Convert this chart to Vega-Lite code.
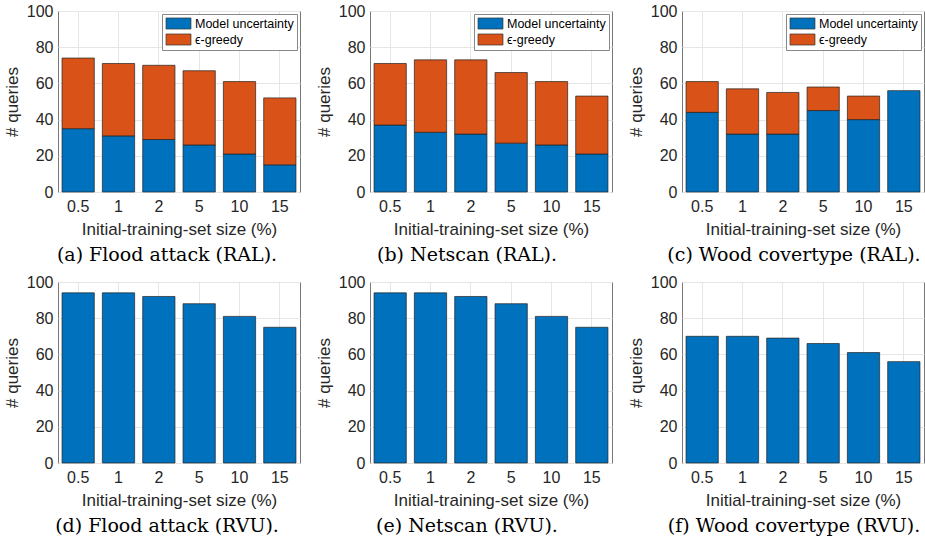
{
  "$schema": "https://vega.github.io/schema/vega-lite/v6.json",
  "padding": {"left": 2, "top": 2, "right": 0, "bottom": 5},
  "background": "white",
  "datasets": {
    "ral": [
      {"dataset": "Flood attack", "size": "0.5", "method": "Model uncertainty", "queries": 35},
      {"dataset": "Flood attack", "size": "1", "method": "Model uncertainty", "queries": 31},
      {"dataset": "Flood attack", "size": "2", "method": "Model uncertainty", "queries": 29},
      {"dataset": "Flood attack", "size": "5", "method": "Model uncertainty", "queries": 26},
      {"dataset": "Flood attack", "size": "10", "method": "Model uncertainty", "queries": 21},
      {"dataset": "Flood attack", "size": "15", "method": "Model uncertainty", "queries": 15},
      {"dataset": "Flood attack", "size": "0.5", "method": "ϵ-greedy", "queries": 39},
      {"dataset": "Flood attack", "size": "1", "method": "ϵ-greedy", "queries": 40},
      {"dataset": "Flood attack", "size": "2", "method": "ϵ-greedy", "queries": 41},
      {"dataset": "Flood attack", "size": "5", "method": "ϵ-greedy", "queries": 41},
      {"dataset": "Flood attack", "size": "10", "method": "ϵ-greedy", "queries": 40},
      {"dataset": "Flood attack", "size": "15", "method": "ϵ-greedy", "queries": 37},
      {"dataset": "Netscan", "size": "0.5", "method": "Model uncertainty", "queries": 37},
      {"dataset": "Netscan", "size": "1", "method": "Model uncertainty", "queries": 33},
      {"dataset": "Netscan", "size": "2", "method": "Model uncertainty", "queries": 32},
      {"dataset": "Netscan", "size": "5", "method": "Model uncertainty", "queries": 27},
      {"dataset": "Netscan", "size": "10", "method": "Model uncertainty", "queries": 26},
      {"dataset": "Netscan", "size": "15", "method": "Model uncertainty", "queries": 21},
      {"dataset": "Netscan", "size": "0.5", "method": "ϵ-greedy", "queries": 34},
      {"dataset": "Netscan", "size": "1", "method": "ϵ-greedy", "queries": 40},
      {"dataset": "Netscan", "size": "2", "method": "ϵ-greedy", "queries": 41},
      {"dataset": "Netscan", "size": "5", "method": "ϵ-greedy", "queries": 39},
      {"dataset": "Netscan", "size": "10", "method": "ϵ-greedy", "queries": 35},
      {"dataset": "Netscan", "size": "15", "method": "ϵ-greedy", "queries": 32},
      {"dataset": "Wood covertype", "size": "0.5", "method": "Model uncertainty", "queries": 44},
      {"dataset": "Wood covertype", "size": "1", "method": "Model uncertainty", "queries": 32},
      {"dataset": "Wood covertype", "size": "2", "method": "Model uncertainty", "queries": 32},
      {"dataset": "Wood covertype", "size": "5", "method": "Model uncertainty", "queries": 45},
      {"dataset": "Wood covertype", "size": "10", "method": "Model uncertainty", "queries": 40},
      {"dataset": "Wood covertype", "size": "15", "method": "Model uncertainty", "queries": 56},
      {"dataset": "Wood covertype", "size": "0.5", "method": "ϵ-greedy", "queries": 17},
      {"dataset": "Wood covertype", "size": "1", "method": "ϵ-greedy", "queries": 25},
      {"dataset": "Wood covertype", "size": "2", "method": "ϵ-greedy", "queries": 23},
      {"dataset": "Wood covertype", "size": "5", "method": "ϵ-greedy", "queries": 13},
      {"dataset": "Wood covertype", "size": "10", "method": "ϵ-greedy", "queries": 13}
    ],
    "rvu": [
      {"dataset": "Flood attack", "size": "0.5", "queries": 94},
      {"dataset": "Flood attack", "size": "1", "queries": 94},
      {"dataset": "Flood attack", "size": "2", "queries": 92},
      {"dataset": "Flood attack", "size": "5", "queries": 88},
      {"dataset": "Flood attack", "size": "10", "queries": 81},
      {"dataset": "Flood attack", "size": "15", "queries": 75},
      {"dataset": "Netscan", "size": "0.5", "queries": 94},
      {"dataset": "Netscan", "size": "1", "queries": 94},
      {"dataset": "Netscan", "size": "2", "queries": 92},
      {"dataset": "Netscan", "size": "5", "queries": 88},
      {"dataset": "Netscan", "size": "10", "queries": 81},
      {"dataset": "Netscan", "size": "15", "queries": 75},
      {"dataset": "Wood covertype", "size": "0.5", "queries": 70},
      {"dataset": "Wood covertype", "size": "1", "queries": 70},
      {"dataset": "Wood covertype", "size": "2", "queries": 69},
      {"dataset": "Wood covertype", "size": "5", "queries": 66},
      {"dataset": "Wood covertype", "size": "10", "queries": 61},
      {"dataset": "Wood covertype", "size": "15", "queries": 56}
    ]
  },
  "config": {
    "view": {"stroke": "#777", "strokeWidth": 1},
    "axis": {
      "labelFont": "Liberation Sans",
      "labelFontSize": 16,
      "labelColor": "#262626",
      "titleFont": "Liberation Sans",
      "titleFontSize": 17,
      "titleFontWeight": "normal",
      "titleColor": "#262626",
      "domain": false,
      "ticks": false,
      "grid": true,
      "gridColor": "#e6e6e6",
      "gridWidth": 1
    },
    "axisX": {"labelPadding": 6, "titlePadding": 7, "labelAngle": 0, "bandPosition": 0.5},
    "axisY": {"labelPadding": 5, "titlePadding": 5},
    "title": {
      "font": "DejaVu Serif",
      "fontSize": 19,
      "fontWeight": "normal",
      "color": "#000000",
      "orient": "bottom",
      "anchor": "middle",
      "frame": "group",
      "offset": 9
    },
    "legend": {
      "orient": "top-right",
      "offset": 3,
      "padding": 3,
      "strokeColor": "#888",
      "fillColor": "white",
      "title": null,
      "labelFont": "Liberation Sans",
      "labelFontSize": 12.5,
      "labelColor": "#000",
      "labelOffset": 10,
      "rowPadding": 1,
      "symbolType": "M-2.08,-0.92H2.08V0.92H-2.08Z",
      "symbolSize": 144,
      "symbolOffset": 7,
      "symbolStrokeColor": "#333",
      "symbolStrokeWidth": 0.6
    },
    "bar": {"stroke": "#222", "strokeWidth": 0.7}
  },
  "columns": 3,
  "spacing": {"row": 90, "column": 70},
  "bounds": "flush",
  "resolve": {"legend": {"color": "independent"}},
  "concat": [
    {
      "width": 242, "height": 181,
      "data": {"name": "ral"},
      "transform": [{"filter": "datum.dataset == 'Flood attack'"}],
      "title": {"text": "(a) Flood attack (RAL).", "dx": -12},
      "mark": {"type": "bar"},
      "encoding": {
        "x": {"field": "size", "type": "ordinal", "sort": ["0.5", "1", "2", "5", "10", "15"], "scale": {"paddingInner": 0.2, "paddingOuter": 0.1}, "axis": {"title": "Initial-training-set size (%)"}},
        "y": {"field": "queries", "type": "quantitative", "stack": "zero", "scale": {"domain": [0, 100]}, "axis": {"title": "# queries", "values": [0, 20, 40, 60, 80, 100]}},
        "color": {"field": "method", "type": "nominal", "scale": {"domain": ["Model uncertainty", "ϵ-greedy"], "range": ["#0072BD", "#D95319"]}},
        "order": {"field": "method", "type": "nominal", "sort": "ascending"}
      }
    },
    {
      "width": 242, "height": 181,
      "data": {"name": "ral"},
      "transform": [{"filter": "datum.dataset == 'Netscan'"}],
      "title": {"text": "(b) Netscan (RAL).", "dx": -24},
      "mark": {"type": "bar"},
      "encoding": {
        "x": {"field": "size", "type": "ordinal", "sort": ["0.5", "1", "2", "5", "10", "15"], "scale": {"paddingInner": 0.2, "paddingOuter": 0.1}, "axis": {"title": "Initial-training-set size (%)"}},
        "y": {"field": "queries", "type": "quantitative", "stack": "zero", "scale": {"domain": [0, 100]}, "axis": {"title": "# queries", "values": [0, 20, 40, 60, 80, 100]}},
        "color": {"field": "method", "type": "nominal", "scale": {"domain": ["Model uncertainty", "ϵ-greedy"], "range": ["#0072BD", "#D95319"]}},
        "order": {"field": "method", "type": "nominal", "sort": "ascending"}
      }
    },
    {
      "width": 242, "height": 181,
      "data": {"name": "ral"},
      "transform": [{"filter": "datum.dataset == 'Wood covertype'"}],
      "title": {"text": "(c) Wood covertype (RAL).", "dx": -9},
      "mark": {"type": "bar"},
      "encoding": {
        "x": {"field": "size", "type": "ordinal", "sort": ["0.5", "1", "2", "5", "10", "15"], "scale": {"paddingInner": 0.2, "paddingOuter": 0.1}, "axis": {"title": "Initial-training-set size (%)"}},
        "y": {"field": "queries", "type": "quantitative", "stack": "zero", "scale": {"domain": [0, 100]}, "axis": {"title": "# queries", "values": [0, 20, 40, 60, 80, 100]}},
        "color": {"field": "method", "type": "nominal", "scale": {"domain": ["Model uncertainty", "ϵ-greedy"], "range": ["#0072BD", "#D95319"]}},
        "order": {"field": "method", "type": "nominal", "sort": "ascending"}
      }
    },
    {
      "width": 242, "height": 181,
      "data": {"name": "rvu"},
      "transform": [{"filter": "datum.dataset == 'Flood attack'"}],
      "title": {"text": "(d) Flood attack (RVU).", "dx": -12},
      "mark": {"type": "bar", "color": "#0072BD"},
      "encoding": {
        "x": {"field": "size", "type": "ordinal", "sort": ["0.5", "1", "2", "5", "10", "15"], "scale": {"paddingInner": 0.2, "paddingOuter": 0.1}, "axis": {"title": "Initial-training-set size (%)"}},
        "y": {"field": "queries", "type": "quantitative", "scale": {"domain": [0, 100]}, "axis": {"title": "# queries", "values": [0, 20, 40, 60, 80, 100]}}
      }
    },
    {
      "width": 242, "height": 181,
      "data": {"name": "rvu"},
      "transform": [{"filter": "datum.dataset == 'Netscan'"}],
      "title": {"text": "(e) Netscan (RVU).", "dx": -24},
      "mark": {"type": "bar", "color": "#0072BD"},
      "encoding": {
        "x": {"field": "size", "type": "ordinal", "sort": ["0.5", "1", "2", "5", "10", "15"], "scale": {"paddingInner": 0.2, "paddingOuter": 0.1}, "axis": {"title": "Initial-training-set size (%)"}},
        "y": {"field": "queries", "type": "quantitative", "scale": {"domain": [0, 100]}, "axis": {"title": "# queries", "values": [0, 20, 40, 60, 80, 100]}}
      }
    },
    {
      "width": 242, "height": 181,
      "data": {"name": "rvu"},
      "transform": [{"filter": "datum.dataset == 'Wood covertype'"}],
      "title": {"text": "(f) Wood covertype (RVU).", "dx": -9},
      "mark": {"type": "bar", "color": "#0072BD"},
      "encoding": {
        "x": {"field": "size", "type": "ordinal", "sort": ["0.5", "1", "2", "5", "10", "15"], "scale": {"paddingInner": 0.2, "paddingOuter": 0.1}, "axis": {"title": "Initial-training-set size (%)"}},
        "y": {"field": "queries", "type": "quantitative", "scale": {"domain": [0, 100]}, "axis": {"title": "# queries", "values": [0, 20, 40, 60, 80, 100]}}
      }
    }
  ]
}
